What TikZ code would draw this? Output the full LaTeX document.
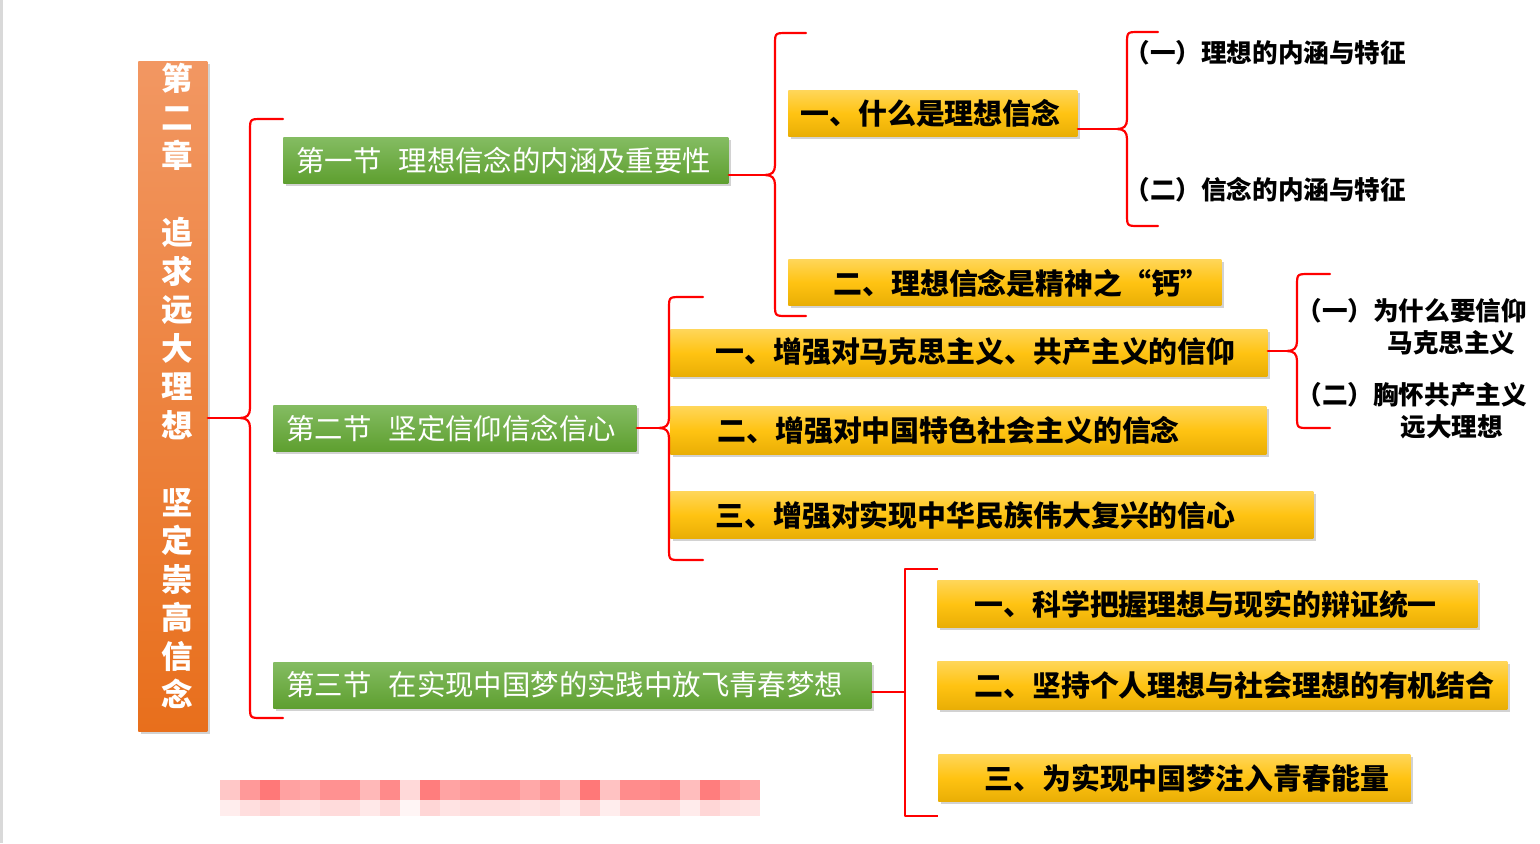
\documentclass[tikz,border=0pt]{standalone}
\usepackage{fontspec}
\setmainfont{Noto Sans CJK SC}
\usetikzlibrary{shadows}
\definecolor{yTop}{HTML}{FFD659}
\definecolor{yMid}{HTML}{FFC312}
\definecolor{yBot}{HTML}{E9AE05}
\definecolor{gTop}{HTML}{84BC62}
\definecolor{gBot}{HTML}{5E9F2F}
\definecolor{oTop}{HTML}{F29762}
\definecolor{oBot}{HTML}{E86F1C}
\definecolor{redl}{HTML}{FF0000}
\definecolor{edgegrey}{HTML}{D9D9D9}
\tikzset{
  redline/.style={draw=redl, line width=1.1pt, line cap=round, line join=round},
  boxbase/.style={anchor=north west, inner sep=0pt, minimum height=#1*0.5pt,
    drop shadow={shadow xshift=1.2pt, shadow yshift=-1.2pt, opacity=0.35}},
  ybox/.style={boxbase=#1, top color=yTop, bottom color=yBot, middle color=yMid},
  gbox/.style={boxbase=#1, top color=gTop, bottom color=gBot},
  ytext/.style={anchor=west, inner sep=0pt, font=\fontsize{14.45pt}{16pt}\selectfont\bfseries, text=black},
  gtext/.style={anchor=west, inner sep=0pt, font=\fontsize{14.2pt}{16pt}\selectfont, text=white},
  stext/.style={anchor=west, inner sep=0pt, font=\fontsize{12.8pt}{16pt}\selectfont\bfseries, text=black},
}
\newcommand\curlybrace[7]{%
  \coordinate (#1-tip) at ({#3-10},#6);
  \coordinate (#1-top) at (#7,#4);
  \coordinate (#1-bot) at (#7,#5);
  \draw[redline] (#1-top) -- ({#3+12},#4) .. controls (#3,#4) .. (#3,{#4+12})
    -- (#3,{#6-10}) .. controls (#3,{#6-3}) and ({#3-3},#6) .. (#1-tip)
    .. controls ({#3-3},#6) and (#3,{#6+3}) .. (#3,{#6+10})
    -- (#3,{#5-12}) .. controls (#3,#5) .. ({#3+12},#5) -- (#1-bot);
  \draw[redline] (#2 |- #1-tip) -- (#1-tip);
}
\begin{document}
\begin{tikzpicture}[x=0.5pt,y=-0.5pt]
\fill[white] (0,0) rectangle (1540,843);
\useasboundingbox (0,0) rectangle (1540,843);
\fill[edgegrey] (0,0) rectangle (3,843);

% chapter box
\node[boxbase=670, minimum width=69*0.5pt, top color=oTop, bottom color=oBot] (ch) at (138,61) {};
\node[font=\fontsize{15.8pt}{19.25pt}\selectfont\bfseries, text=white, align=center, inner sep=0pt] (cht) at (177,386)
  {第\\二\\章\\\mbox{}\\追\\求\\远\\大\\理\\想\\\mbox{}\\坚\\定\\崇\\高\\信\\念};

% sections
\node[gbox=46, minimum width=445*0.5pt] (g1) at (283,137) {};
\node[gbox=46, minimum width=363*0.5pt] (g2) at (273,405) {};
\node[gbox=46, minimum width=598*0.5pt] (g3) at (273,662) {};
\node[gtext] (g1t) at (296,160) {第一节\hspace{0.6em}理想信念的内涵及重要性};
\node[gtext] (g2t) at (286,428) {第二节\hspace{0.6em}坚定信仰信念信心};
\node[gtext] (g3t) at (286,685) {第三节\hspace{0.6em}在实现中国梦的实践中放飞青春梦想};

% items
\node[ybox=46, minimum width=289*0.5pt] (y1) at (788,90) {};
\node[ybox=46, minimum width=433*0.5pt] (y2) at (788,259) {};
\node[ybox=47, minimum width=597*0.5pt] (y3) at (670,329) {};
\node[ybox=48, minimum width=596*0.5pt] (y4) at (670,406) {};
\node[ybox=47, minimum width=643*0.5pt] (y5) at (670,491) {};
\node[ybox=47, minimum width=540*0.5pt] (y6) at (937,580) {};
\node[ybox=48, minimum width=570*0.5pt] (y7) at (937,661) {};
\node[ybox=47, minimum width=472*0.5pt] (y8) at (938,754) {};
\node[ytext] (y1t) at (800,113) {一、什么是理想信念};
\node[ytext] (y2t) at (833,283) {二、理想信念是精神之“钙”};
\node[ytext] (y3t) at (715,352) {一、增强对马克思主义、共产主义的信仰};
\node[ytext] (y4t) at (717,430) {二、增强对中国特色社会主义的信念};
\node[ytext] (y5t) at (715,515) {三、增强对实现中华民族伟大复兴的信心};
\node[ytext] (y6t) at (974,604) {一、科学把握理想与现实的辩证统一};
\node[ytext] (y7t) at (974,685) {二、坚持个人理想与社会理想的有机结合};
\node[ytext] (y8t) at (984,778) {三、为实现中国梦注入青春能量};

% side texts
\node[stext] (s1) at (1124,53) {（一）理想的内涵与特征};
\node[stext] (s2) at (1124,190) {（二）信念的内涵与特征};
\node[stext] (s3a) at (1296,311) {（一）为什么要信仰};
\node[stext] (s3b) at (1387,343) {马克思主义};
\node[stext] (s4a) at (1296,395) {（二）胸怀共产主义};
\node[stext] (s4b) at (1400,427) {远大理想};

% braces
\curlybrace{b1}{ch.east}{250}{119}{718}{418}{283}
\curlybrace{b2}{g1.east}{775}{33}{316}{175}{806}
\curlybrace{b3}{y1.east}{1127}{32}{226}{129}{1158}
\curlybrace{b4}{g2.east}{669}{297}{560}{428}{703}
\curlybrace{b5}{y3.east}{1297}{274}{428}{351}{1330}
\coordinate (b6-tip) at (905,692);
\coordinate (b6-top) at (938,569);
\coordinate (b6-bot) at (938,816);
\draw[redline, line cap=butt] (b6-top) -- (905,569) -- (905,816) -- (b6-bot);
\draw[redline] (g3.east |- b6-tip) -- (b6-tip);

% mosaic band
\foreach \p [count=\i from 0] in {22,40,53,37,34,43,43,28,46,15,51,36,40,42,42,34,42,26,53,24,45,45,48,26,51,39,34} {
  \fill[red!\p] ({220+20*\i},780) rectangle ({240+20*\i},800);
  \pgfmathtruncatemacro\q{\p*0.33}
  \fill[red!\q] ({220+20*\i},800) rectangle ({240+20*\i},816);
}
\end{tikzpicture}
\end{document}
